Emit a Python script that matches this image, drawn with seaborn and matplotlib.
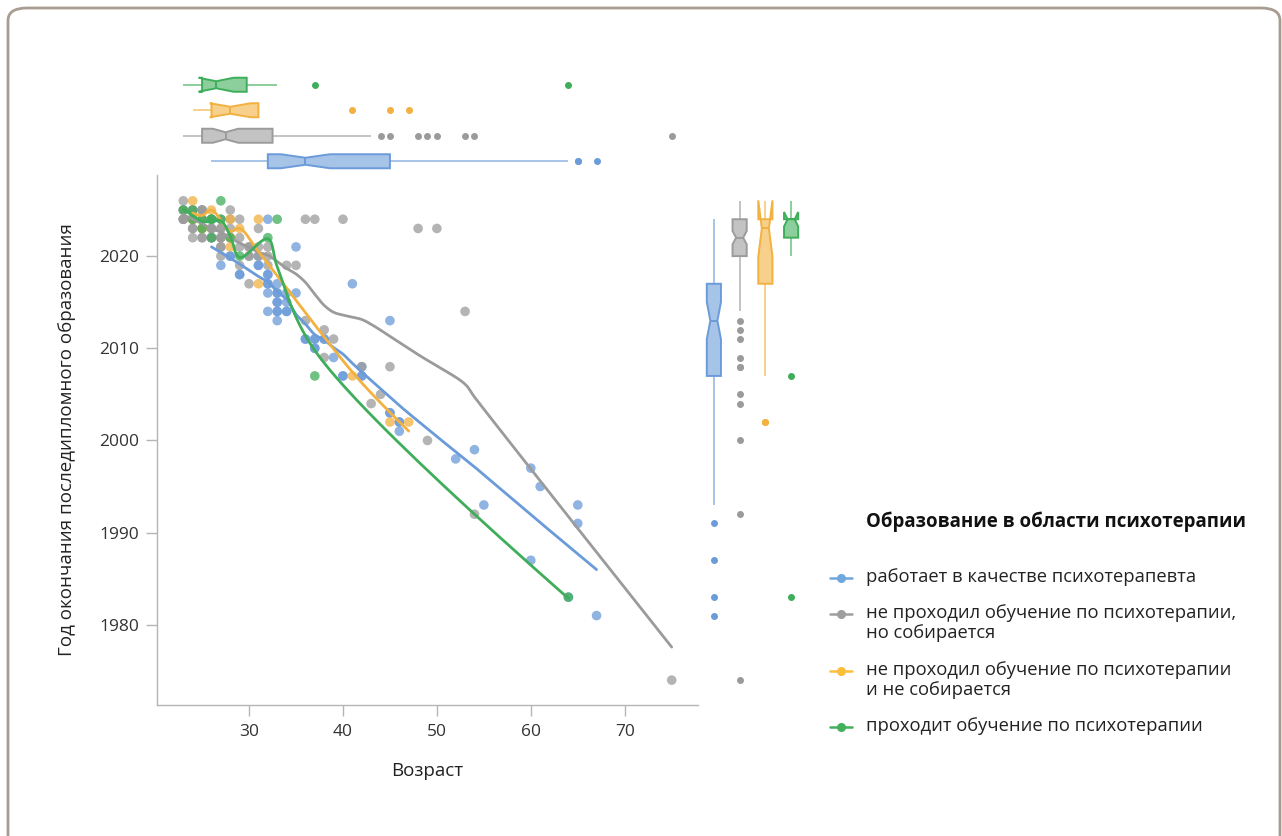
import numpy as np
import pandas as pd
import seaborn as sns
import matplotlib.pyplot as plt
from matplotlib.lines import Line2D
from matplotlib.patches import FancyBboxPatch

groups = [
    "работает в качестве психотерапевта",
    "не проходил обучение по психотерапии,\nно собирается",
    "не проходил обучение по психотерапии\nи не собирается",
    "проходит обучение по психотерапии",
]
colors = ["#6b9bd9", "#9b9b9b", "#f2b140", "#3fae5a"]
legend_colors = ["#6fa8dc", "#9e9e9e", "#fbbf3c", "#43b05c"]
legend_title = "Образование в области психотерапии"

# работает в качестве психотерапевта
blue_age = [32, 26, 35, 28, 31, 27, 31, 29, 32, 32, 41, 32, 33, 33, 32, 33, 34, 33, 45,
            36, 37, 38, 37, 40, 42, 45, 46, 46, 54, 52, 60, 61, 55, 65, 65, 60, 64, 67,
            28, 31, 32, 32, 29,
            33, 33, 33, 34, 34, 35, 34, 33,
            36, 37, 37, 38, 40, 42, 39, 42,
            45, 46]
blue_year = [2024, 2022, 2021, 2020, 2020, 2019, 2019, 2018, 2018, 2017, 2017, 2016, 2016, 2015, 2014, 2014, 2014, 2013, 2013,
             2011, 2011, 2011, 2010, 2007, 2007, 2003, 2002, 2001, 1999, 1998, 1997, 1995, 1993, 1993, 1991, 1987, 1983, 1981,
             2020, 2019, 2018, 2017, 2018,
             2015, 2014, 2016, 2014, 2015, 2016, 2016, 2017,
             2011, 2011, 2010, 2011, 2007, 2007, 2009, 2008,
             2003, 2002]

# не проходил обучение, но собирается
gray_age = [23, 24, 25, 28, 23, 24, 25, 29, 36, 37, 40, 26, 31, 48, 50, 25, 27, 27, 30, 30,
            29, 32, 34, 35, 30, 53, 36, 38, 39, 38, 42, 45, 44, 43, 49, 54, 75,
            23, 23, 24, 24, 24, 25, 25, 25, 23, 24, 25, 23, 24,
            26, 26, 26, 26, 27, 27, 27, 27, 25, 27, 24, 27, 26, 27, 26,
            28, 28, 29, 30, 31, 32, 28, 29, 30, 31, 32]
gray_year = [2026, 2025, 2025, 2025, 2024, 2024, 2024, 2024, 2024, 2024, 2024, 2023, 2023, 2023, 2023, 2022, 2022, 2021, 2021, 2020,
             2019, 2019, 2019, 2019, 2017, 2014, 2013, 2012, 2011, 2009, 2008, 2008, 2005, 2004, 2000, 1992, 1974,
             2024, 2025, 2024, 2023, 2025, 2024, 2023, 2022, 2024, 2024, 2025, 2025, 2023,
             2023, 2024, 2022, 2023, 2022, 2023, 2021, 2024, 2025, 2022, 2022, 2023, 2024, 2020, 2022,
             2022, 2023, 2021, 2020, 2020, 2020, 2024, 2022, 2021, 2021, 2021]

# не проходил обучение и не собирается
orange_age = [24, 24, 25, 26, 28, 28, 28, 29, 31, 31, 41, 45, 47]
orange_year = [2026, 2024, 2023, 2025, 2024, 2021, 2022, 2023, 2024, 2017, 2007, 2002, 2002]

# проходит обучение
green_age = [23, 24, 24, 25, 25, 26, 26, 26, 27, 27, 28, 29, 32, 33, 37, 64]
green_year = [2025, 2024, 2025, 2024, 2023, 2024, 2024, 2022, 2026, 2024, 2022, 2020, 2022, 2024, 2007, 1983]

ages = [blue_age, gray_age, orange_age, green_age]
years = [blue_year, gray_year, orange_year, green_year]
df = pd.concat([pd.DataFrame({"age": a, "year": y, "group": g})
                for a, y, g in zip(ages, years, groups)], ignore_index=True)
palette = dict(zip(groups, colors))

W, H = 1282, 836
XLIM = (20.2, 77.8)
YLIM = (1971.3, 2028.8)
AX_W, AX_H = 541, 530


def lowess(x, y, frac=0.5, iters=0):
    x = np.asarray(x, float)
    y = np.asarray(y, float)
    o = np.argsort(x, kind="mergesort")
    x, y = x[o], y[o]
    n = len(x)
    k = max(int(frac * n + 1e-10), 2)
    rw = np.ones(n)
    fit = np.zeros(n)
    for it in range(iters + 1):
        for i in range(n):
            d = np.abs(x - x[i])
            h = np.sort(d)[k - 1]
            u = np.clip(d / max(h, 1e-12), 0, 1)
            w = (1 - u ** 3) ** 3 * rw
            sw = w.sum()
            xm = (w * x).sum() / sw
            ym = (w * y).sum() / sw
            var = (w * (x - xm) ** 2).sum()
            b = (w * (x - xm) * (y - ym)).sum() / var if var > 1e-12 else 0.0
            fit[i] = ym + b * (x[i] - xm)
        if it == iters:
            break
        res = y - fit
        s = np.median(np.abs(res))
        if s <= 0:
            break
        r = np.clip(res / (6 * s), -1, 1)
        rw = (1 - r ** 2) ** 2
    ux, idx = np.unique(x, return_index=True)
    return ux, fit[idx]


def spline_path(x, y, smooth=1.0, steps=24):
    # plotly-style "spline" line shape, computed in pixel space
    sx = AX_W / (XLIM[1] - XLIM[0])
    sy = AX_H / (YLIM[1] - YLIM[0])
    p = np.column_stack([np.asarray(x) * sx, -np.asarray(y) * sy])
    if len(p) < 3:
        return x, y
    tans = []
    for i in range(1, len(p) - 1):
        d1 = p[i - 1] - p[i]
        d2 = p[i + 1] - p[i]
        a1 = np.hypot(*d1) ** 0.5
        a2 = np.hypot(*d2) ** 0.5
        num = (a2 * a2 * d1 - a1 * a1 * d2) * smooth
        den1 = 3 * a2 * (a1 + a2)
        den2 = 3 * a1 * (a1 + a2)
        tans.append((p[i] + (num / den1 if den1 else 0), p[i] - (num / den2 if den2 else 0)))
    t = np.linspace(0, 1, steps)[:, None]
    segs = [(1 - t) ** 2 * p[0] + 2 * (1 - t) * t * tans[0][0] + t ** 2 * p[1]]
    for i in range(2, len(p) - 1):
        c1, c2 = tans[i - 2][1], tans[i - 1][0]
        segs.append((1 - t) ** 3 * p[i - 1] + 3 * (1 - t) ** 2 * t * c1
                    + 3 * (1 - t) * t ** 2 * c2 + t ** 3 * p[i])
    segs.append((1 - t) ** 2 * p[-2] + 2 * (1 - t) * t * tans[-1][1] + t ** 2 * p[-1])
    q = np.vstack(segs)
    return q[:, 0] / sx, -q[:, 1] / sy


sns.set_theme(style="ticks")
plt.rcParams["font.family"] = ["Open Sans", "DejaVu Sans"]

fig = plt.figure(figsize=(W / 100, H / 100), dpi=100)
ax = fig.add_axes([157 / W, 1 - 705 / H, AX_W / W, AX_H / H])
ax_top = fig.add_axes([157 / W, 1 - 174 / H, AX_W / W, 102 / H], sharex=ax)
ax_right = fig.add_axes([701 / W, 1 - 705 / H, 103 / W, AX_H / H], sharey=ax)

sns.scatterplot(data=df, x="age", y="year", hue="group", palette=palette,
                s=48, alpha=0.75, edgecolor="none", legend=False, ax=ax)
for a, y, c in zip(ages, years, colors):
    lx, ly = lowess(a, y)
    cx, cy = spline_path(lx, ly)
    sns.lineplot(x=cx, y=cy, color=c, linewidth=2, sort=False, ax=ax)

top_order = [groups[3], groups[2], groups[1], groups[0]]
box_kw = dict(notch=True, width=0.55, showcaps=False, linewidth=1.4,
              fliersize=4, saturation=1)
for g, c in zip(groups, colors):
    sub = df[df["group"] == g]
    fp = dict(marker="o", markerfacecolor=c, markeredgecolor=c)
    sns.boxplot(data=sub, x="age", y="group", order=top_order, orient="y",
                color=c, linecolor=c, flierprops=fp,
                whiskerprops=dict(alpha=0.6), ax=ax_top, **box_kw)
    sns.boxplot(data=sub, x="group", y="year", order=groups, orient="x",
                color=c, linecolor=c, flierprops=fp,
                whiskerprops=dict(alpha=0.6), ax=ax_right, **box_kw)
for a in (ax_top, ax_right):
    for p in a.patches:
        fc = p.get_facecolor()
        p.set_facecolor((fc[0], fc[1], fc[2], 0.6))
    a.set_axis_off()

ax.set_xlim(*XLIM)
ax.set_ylim(*YLIM)
ax_top.set_ylim(3.5, -0.5)
ax_right.set_xlim(-0.5, 3.5)
ax.set_xticks([30, 40, 50, 60, 70])
ax.set_yticks([1980, 1990, 2000, 2010, 2020])
sns.despine(ax=ax)
for sp in ("left", "bottom"):
    ax.spines[sp].set_color("#b5b5b5")
    ax.spines[sp].set_linewidth(1)
ax.tick_params(direction="out", length=8, width=1, color="#b5b5b5",
               labelcolor="#333333", labelsize=12.5)
ax.tick_params(axis="x", pad=6)
ax.tick_params(axis="y", pad=5)
ax.set_xlabel("Возраст", fontsize=13.5, color="#222222")
ax.set_ylabel("Год окончания последипломного образования", fontsize=13.5,
              color="#222222")
ax.xaxis.set_label_coords(0.5, -0.108)
ax.yaxis.set_label_coords(-0.15, 0.5)

# legend drawn by hand so the key sits on the first line of each label
fig.text(866 / W, 1 - 522 / H, legend_title, fontsize=13.4, weight="bold",
         color="#111111", va="center", ha="left")
entry_y = [578, 614, 671, 727]
for lab, c, yy in zip(groups, legend_colors, entry_y):
    fy = 1 - yy / H
    fig.add_artist(Line2D([830 / W, 852 / W], [fy, fy], color=c, linewidth=1.8,
                          transform=fig.transFigure))
    fig.add_artist(Line2D([841 / W], [fy], color=c, marker="o", markersize=5.5,
                          transform=fig.transFigure))
    fig.text(866 / W, 1 - (yy - 10) / H, lab, fontsize=13.2, color="#222222",
             va="top", ha="left", linespacing=1.12)

fig.add_artist(FancyBboxPatch((8 / W, -0.02), 1272 / W, 1.0 - 8 / H + 0.02,
                              boxstyle="round,pad=0,rounding_size=0.015",
                              transform=fig.transFigure, fill=False,
                              edgecolor="#a89d90", linewidth=2))

fig.savefig("out.png", dpi=100)
